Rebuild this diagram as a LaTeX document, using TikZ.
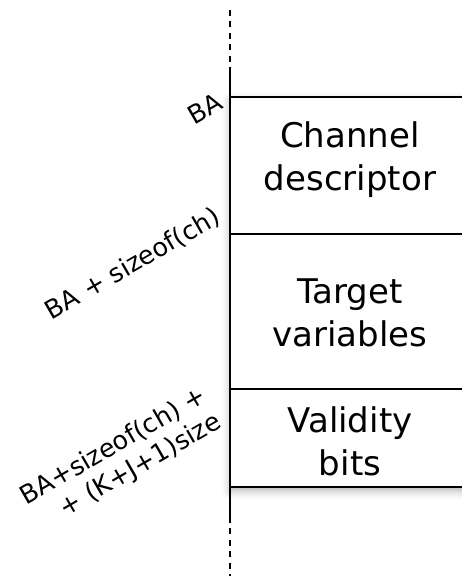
\documentclass[tikz,border=0pt]{standalone}
\usepackage{fontspec}
\setmainfont{DejaVu Sans}
\usetikzlibrary{shadows.blur}
\begin{document}
\begin{tikzpicture}[x=1pt,y=1pt,
  stackbg/.style={rectangle, fill=white, inner sep=0pt, outer sep=0pt,
    minimum width=240pt, minimum height=390pt, anchor=north west,
    blur shadow={shadow xshift=0pt, shadow yshift=-4pt, shadow blur radius=8pt, shadow opacity=30}},
  segment/.style={rectangle, draw, line width=2.6pt, inner sep=0pt, outer sep=0pt,
    minimum width=240pt, anchor=north west},
  boxtext/.style={align=center, inner sep=0pt, font=\fontsize{34}{43}\selectfont},
  addr/.style={rotate=30, anchor=south east, inner sep=0pt, align=right,
    font=\fontsize{25.5}{30}\selectfont},
  axisline/.style={line width=2.6pt},
  axisdash/.style={line width=2.6pt, dash pattern=on 6pt off 5.5pt},
]
\useasboundingbox (0,0) rectangle (462,576);

% shadowed backing of the whole block
\node[stackbg] (stack) at (230,479) {};

% memory segments, stacked from the base address downwards
\node[segment, minimum height=137pt] (b1) at (stack.north west) {};
\node[segment, minimum height=155pt] (b2) at (b1.south west) {};
\node[segment, minimum height=98pt]  (b3) at (b2.south west) {};

\node[boxtext] (t1) at ([yshift=6pt]b1.center) {Channel\\descriptor};
\node[boxtext] (t2) at ([yshift=-1.5pt]b2.center) {Target\\variables};
\node[boxtext] (t3) at ([yshift=-3pt]b3.center) {Validity\\bits};

% address axis
\coordinate (vtop) at (230,566);
\coordinate (vs)   at (230,508);
\coordinate (ve)   at (230,59);
\coordinate (vbot) at (230,0);
\draw[axisdash] (vtop) -- (vs);
\draw[axisline] (vs) -- (ve);
\draw[axisdash] (ve) -- (vbot);

% address labels
\node[addr] (a1) at (225,468) {BA};
\node[addr] (a2) at (224,351) {BA + sizeof(ch)};
\node[addr] (a3) at (226,145) {BA+sizeof(ch) +\\+ (K+J+1)size};
\end{tikzpicture}
\end{document}
